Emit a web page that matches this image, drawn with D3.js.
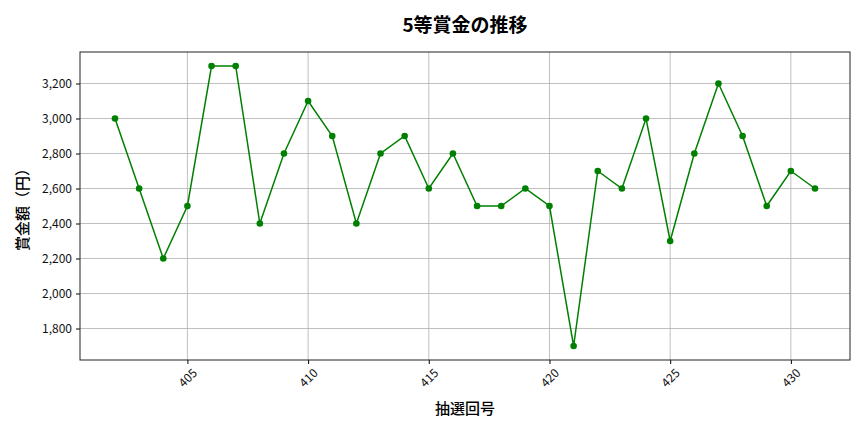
<!DOCTYPE html>
<html>
<head>
<meta charset="utf-8">
<script src="https://cdn.jsdelivr.net/npm/d3@7"></script>
<style>
  body { margin: 0; background: #fff; }
  svg, svg text { font-family: "Noto Sans CJK JP", "Noto Sans", sans-serif; }
</style>
</head>
<body>
<div id="chart"></div>
<script>
// 5等 prize amounts per draw
var draws = [402, 403, 404, 405, 406, 407, 408, 409, 410, 411, 412, 413, 414, 415, 416,
             417, 418, 419, 420, 421, 422, 423, 424, 425, 426, 427, 428, 429, 430, 431];
var prizes = [3000, 2600, 2200, 2500, 3300, 3300, 2400, 2800, 3100, 2900, 2400, 2800, 2900, 2600, 2800,
              2500, 2500, 2600, 2500, 1700, 2700, 2600, 3000, 2300, 2800, 3200, 2900, 2500, 2700, 2600];
var xTicks = [405, 410, 415, 420, 425, 430];
var yTicks = [1800, 2000, 2200, 2400, 2600, 2800, 3000, 3200];

var width = 864, height = 432;
var margin = { top: 52, right: 14, bottom: 72, left: 80 };

var svg = d3.select("#chart").append("svg")
    .attr("width", width)
    .attr("height", height);

var data = draws.map(function (d, i) { return { draw: d, prize: prizes[i] }; });

// matplotlib style 5% padding
var xPad = (d3.max(draws) - d3.min(draws)) * 0.05;
var yPad = (d3.max(prizes) - d3.min(prizes)) * 0.05;

var x = d3.scaleLinear()
    .domain([d3.min(draws) - xPad, d3.max(draws) + xPad])
    .range([margin.left, width - margin.right]);

var y = d3.scaleLinear()
    .domain([d3.min(prizes) - yPad, d3.max(prizes) + yPad])
    .range([height - margin.bottom, margin.top]);

var fmt = d3.format(",");

// grid
svg.append("g")
    .selectAll("line.gx")
    .data(xTicks)
    .enter().append("line")
    .attr("x1", function (d) { return x(d); })
    .attr("x2", function (d) { return x(d); })
    .attr("y1", margin.top)
    .attr("y2", height - margin.bottom)
    .attr("stroke", "#b0b0b0")
    .attr("stroke-width", 0.8);

svg.append("g")
    .selectAll("line.gy")
    .data(yTicks)
    .enter().append("line")
    .attr("x1", margin.left)
    .attr("x2", width - margin.right)
    .attr("y1", function (d) { return y(d); })
    .attr("y2", function (d) { return y(d); })
    .attr("stroke", "#b0b0b0")
    .attr("stroke-width", 0.8);

// axes
var xAxis = svg.append("g")
    .attr("transform", "translate(0," + (height - margin.bottom) + ")")
    .call(d3.axisBottom(x).tickValues(xTicks).tickSize(4).tickSizeOuter(0))
    .attr("font-family", null)
    .attr("font-size", null);
xAxis.selectAll("text")
    .attr("transform", "translate(0,18) rotate(-45)")
    .attr("text-anchor", "middle")
    .attr("dy", "0.35em")
    .attr("y", 0)
    .attr("x", 0)
    .style("font-size", "12px")
    .attr("fill", "#111");

var yAxis = svg.append("g")
    .attr("transform", "translate(" + margin.left + ",0)")
    .call(d3.axisLeft(y).tickValues(yTicks).tickFormat(fmt).tickSize(4).tickSizeOuter(0))
    .attr("font-family", null)
    .attr("font-size", null);
yAxis.selectAll("text")
    .attr("x", -8)
    .style("font-size", "12px")
    .attr("fill", "#111");

svg.selectAll(".domain").remove();

// frame
svg.append("rect")
    .attr("x", margin.left)
    .attr("y", margin.top)
    .attr("width", width - margin.right - margin.left)
    .attr("height", height - margin.bottom - margin.top)
    .attr("fill", "none")
    .attr("stroke", "#222")
    .attr("stroke-width", 1);

// line + markers
var line = d3.line()
    .x(function (d) { return x(d.draw); })
    .y(function (d) { return y(d.prize); });

svg.append("path")
    .datum(data)
    .attr("d", line)
    .attr("fill", "none")
    .attr("stroke", "green")
    .attr("stroke-width", 1.5);

svg.append("g")
    .selectAll("circle")
    .data(data)
    .enter().append("circle")
    .attr("cx", function (d) { return x(d.draw); })
    .attr("cy", function (d) { return y(d.prize); })
    .attr("r", 3.3)
    .attr("fill", "green");

// titles
var cx = (margin.left + width - margin.right) / 2;
svg.append("text")
    .attr("x", cx)
    .attr("y", 32)
    .attr("text-anchor", "middle")
    .style("font-size", "19px")
    .style("font-weight", "bold")
    .text("5等賞金の推移");

svg.append("text")
    .attr("x", cx)
    .attr("y", 414)
    .attr("text-anchor", "middle")
    .style("font-size", "15px")
    .style("font-weight", "500")
    .text("抽選回号");

svg.append("text")
    .attr("transform", "translate(28," + ((margin.top + height - margin.bottom) / 2) + ") rotate(-90)")
    .attr("text-anchor", "middle")
    .style("font-size", "15px")
    .style("font-weight", "500")
    .text("賞金額（円）");
</script>
</body>
</html>
